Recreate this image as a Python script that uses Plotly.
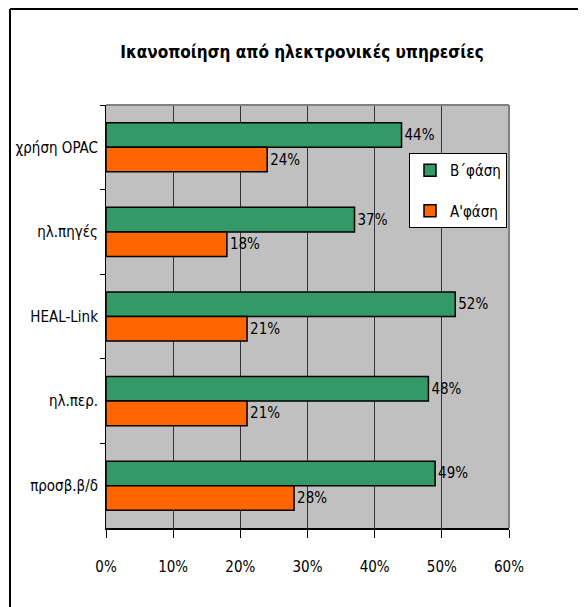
import plotly.graph_objects as go

categories = ["χρήση OPAC", "ηλ.πηγές", "HEAL-Link", "ηλ.περ.", "προσβ.β/δ"]
phase_b = [44, 37, 52, 48, 49]
phase_a = [24, 18, 21, 21, 28]
series_names = ["Β΄φάση", "Α'φάση"]
x_ticks = [0, 10, 20, 30, 40, 50, 60]
x_tick_labels = ["0%", "10%", "20%", "30%", "40%", "50%", "60%"]

FONT = "DejaVu Sans Condensed, Liberation Sans Narrow, sans-serif"
FS = 15

fig = go.Figure()
fig.add_trace(go.Bar(
    y=categories, x=phase_b, orientation="h", name=series_names[0],
    marker=dict(color="#339966", line=dict(color="black", width=1.5)),
    text=[f"{v}%" for v in phase_b], textposition="outside",
    textfont=dict(size=15, color="black", family=FONT), cliponaxis=False,
    legendgroup="b",
))
fig.add_trace(go.Bar(
    y=categories, x=phase_a, orientation="h", name=series_names[1],
    marker=dict(color="#FF6600", line=dict(color="black", width=1.5)),
    text=[f"{v}%" for v in phase_a], textposition="outside",
    textfont=dict(size=15, color="black", family=FONT), cliponaxis=False,
    legendgroup="a",
))

# the page adds an 8px body margin, so figure coords = page coords - 8
OFF = 8
W, H = 588, 607
L, T = 106 - OFF, 105 - OFF
pw, ph = 403, 423
R, B = W - L - pw, H - T - ph

def px2x(px):
    return (px - OFF - L) / pw

def py2y(py):
    return (T + ph - (py - OFF)) / ph

fig.update_layout(
    width=W, height=H,
    margin=dict(l=L, r=R, t=T, b=B, autoexpand=False),
    paper_bgcolor="white", plot_bgcolor="#C0C0C0",
    barmode="group", bargap=0.42, bargroupgap=0,
    font=dict(family=FONT, size=FS, color="black"),
    title=dict(text="<b>Ικανοποίηση από ηλεκτρονικές υπηρεσίες</b>",
               x=(302 - OFF) / W, xanchor="center", y=1 - (52 - OFF) / H, yanchor="middle",
               font=dict(size=17, family=FONT, color="black")),
    xaxis=dict(range=[0, 60], tickvals=x_ticks, ticktext=x_tick_labels,
               automargin=False,
               showgrid=True, gridcolor="#333333", gridwidth=1,
               showline=True, linecolor="black", linewidth=1.5,
               ticks="outside", ticklen=8, tickcolor="black",
               ticklabelstandoff=16, zeroline=False,
               tickfont=dict(size=FS, family=FONT)),
    yaxis=dict(autorange="reversed", automargin=False,
               showline=True, linecolor="black", linewidth=1,
               ticks="outside", ticklen=5, tickcolor="black", tickson="boundaries",
               ticklabelstandoff=4,
               showgrid=False, tickfont=dict(size=FS, family=FONT)),
    legend=dict(x=px2x(507), xanchor="right", y=py2y(153), yanchor="top",
                bgcolor="white", bordercolor="black", borderwidth=1,
                font=dict(size=FS, family=FONT), itemwidth=30,
                tracegroupgap=18, traceorder="grouped"),
    showlegend=True,
)

# plot area top/right border (grey) and outer chart frame (top/left)
fig.add_shape(type="line", xref="paper", yref="paper", x0=0, x1=1, y0=1, y1=1,
              line=dict(color="#808080", width=2))
fig.add_shape(type="line", xref="paper", yref="paper", x0=1, x1=1, y0=0, y1=1,
              line=dict(color="#808080", width=2))
fig.add_shape(type="line", xref="paper", yref="paper", x0=px2x(10), x1=px2x(578),
              y0=py2y(9), y1=py2y(9), line=dict(color="black", width=2))
fig.add_shape(type="line", xref="paper", yref="paper", x0=px2x(10), x1=px2x(10),
              y0=py2y(9), y1=py2y(620), line=dict(color="black", width=2))

fig.write_html("out.html")
